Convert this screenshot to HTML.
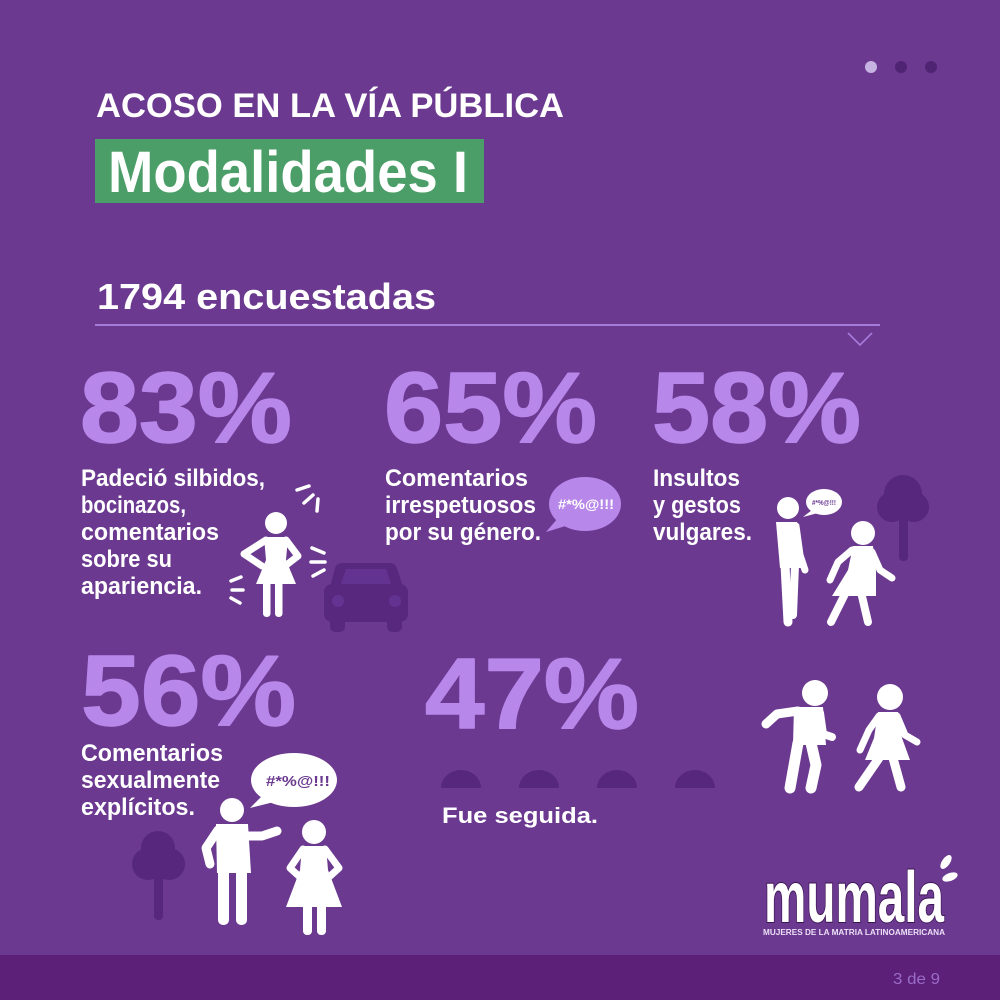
<!DOCTYPE html>
<html><head><meta charset="utf-8"><style>
html,body{margin:0;padding:0;background:#6b3990;}
svg{display:block}
text{font-family:"Liberation Sans",sans-serif;}
</style></head><body>
<svg width="1000" height="1000" viewBox="0 0 1000 1000" xmlns="http://www.w3.org/2000/svg">
<rect x="0" y="0" width="1000" height="1000" fill="#6b3990"/>
<rect x="0" y="955" width="1000" height="45" fill="#5c2078"/>
<!-- dots -->
<circle cx="871" cy="67" r="6" fill="#c7b3e1"/>
<circle cx="901" cy="67" r="6" fill="#4f2472"/>
<circle cx="931" cy="67" r="6" fill="#4f2472"/>
<!-- titles -->
<text x="96" y="117" font-size="34" font-weight="bold" fill="#ffffff" textLength="468" lengthAdjust="spacingAndGlyphs">ACOSO EN LA VÍA PÚBLICA</text>
<rect x="95" y="139" width="389" height="64" fill="#4b9e68"/>
<text x="108" y="192" font-size="58" font-weight="bold" fill="#ffffff" textLength="360" lengthAdjust="spacingAndGlyphs">Modalidades I</text>
<text x="97" y="309" font-size="36" font-weight="bold" fill="#ffffff" textLength="339" lengthAdjust="spacingAndGlyphs">1794 encuestadas</text>
<rect x="95" y="324" width="785" height="2" fill="#a77bd9"/>
<polyline points="848,333 860,345 872,333" fill="none" stroke="#a77bd9" stroke-width="1.6"/>

<!-- big numbers -->
<g font-size="100" font-weight="bold" fill="#b887ea" stroke="#b887ea" stroke-width="1.5" stroke-linejoin="round">
<text x="80" y="442" textLength="212" lengthAdjust="spacingAndGlyphs">83%</text>
<text x="384" y="442" textLength="213" lengthAdjust="spacingAndGlyphs">65%</text>
<text x="652" y="442" textLength="209" lengthAdjust="spacingAndGlyphs">58%</text>
<text x="81" y="725" textLength="215" lengthAdjust="spacingAndGlyphs">56%</text>
<text x="425" y="728" textLength="214" lengthAdjust="spacingAndGlyphs">47%</text>
</g>

<!-- body text -->
<g font-size="24" font-weight="bold" fill="#ffffff">
<text x="81" y="486" textLength="184" lengthAdjust="spacingAndGlyphs">Padeció silbidos,</text>
<text x="81" y="513" textLength="105" lengthAdjust="spacingAndGlyphs">bocinazos,</text>
<text x="81" y="540" textLength="138" lengthAdjust="spacingAndGlyphs">comentarios</text>
<text x="81" y="567" textLength="91" lengthAdjust="spacingAndGlyphs">sobre su</text>
<text x="81" y="594" textLength="121" lengthAdjust="spacingAndGlyphs">apariencia.</text>

<text x="385" y="486" textLength="143" lengthAdjust="spacingAndGlyphs">Comentarios</text>
<text x="385" y="513" textLength="151" lengthAdjust="spacingAndGlyphs">irrespetuosos</text>
<text x="385" y="540" textLength="156" lengthAdjust="spacingAndGlyphs">por su género.</text>

<text x="653" y="486" textLength="87" lengthAdjust="spacingAndGlyphs">Insultos</text>
<text x="653" y="513" textLength="88" lengthAdjust="spacingAndGlyphs">y gestos</text>
<text x="653" y="540" textLength="99" lengthAdjust="spacingAndGlyphs">vulgares.</text>

<text x="81" y="761" textLength="142" lengthAdjust="spacingAndGlyphs">Comentarios</text>
<text x="81" y="788" textLength="139" lengthAdjust="spacingAndGlyphs">sexualmente</text>
<text x="81" y="815" textLength="114" lengthAdjust="spacingAndGlyphs">explícitos.</text>
</g>
<text x="442" y="823" font-size="22" font-weight="bold" fill="#ffffff" textLength="156" lengthAdjust="spacingAndGlyphs">Fue seguida.</text>

<!-- 83% woman + dashes -->
<g fill="#ffffff">
<circle cx="276" cy="523" r="11"/>
<path d="M264,537 L288,537 L286,560 L296,584 L256,584 L266,560 Z"/>
<rect x="263" y="580" width="7.5" height="37" rx="3.5"/>
<rect x="275" y="580" width="7.5" height="37" rx="3.5"/>
</g>
<g fill="none" stroke="#ffffff" stroke-linecap="round" stroke-linejoin="round">
<polyline points="266,540 244,554 262,566" stroke-width="7"/>
<polyline points="286,540 298,556 285,566" stroke-width="7"/>
<g stroke-width="3.5">
<line x1="297" y1="490" x2="309" y2="486"/>
<line x1="304" y1="503" x2="313" y2="495"/>
<line x1="318" y1="499" x2="317" y2="511"/>
<line x1="312" y1="548" x2="324" y2="553"/>
<line x1="311" y1="562" x2="325" y2="562"/>
<line x1="313" y1="576" x2="324" y2="570"/>
<line x1="231" y1="581" x2="241" y2="577"/>
<line x1="232" y1="590" x2="243" y2="590"/>
<line x1="231" y1="598" x2="240" y2="603"/>
</g>
</g>

<!-- car -->
<g fill="#58287f">
<path d="M342,563 L390,563 Q395,563 397,568 L403,587 L330,587 L335,568 Q337,563 342,563 Z"/>
<rect x="324" y="584" width="84" height="38" rx="8"/>
<rect x="330" y="612" width="15" height="20" rx="5"/>
<rect x="387" y="612" width="15" height="20" rx="5"/>
</g>
<path d="M346,569 L386,569 L391,584 L341,584 Z" fill="#633392"/>
<circle cx="338" cy="601" r="6" fill="#633392"/>
<circle cx="395" cy="601" r="6" fill="#633392"/>

<!-- 65% bubble -->
<ellipse cx="585" cy="504" rx="36" ry="27" fill="#b887ea"/>
<path d="M558,518 L546,532 L572,524 Z" fill="#b887ea"/>
<text x="586" y="509" font-size="14" font-weight="bold" fill="#ffffff" text-anchor="middle" textLength="56" lengthAdjust="spacingAndGlyphs">#*%@!!!</text>

<!-- 58% tree -->
<g fill="#56277c">
<circle cx="903" cy="494" r="19"/>
<circle cx="892" cy="507" r="15"/>
<circle cx="914" cy="507" r="15"/>
<rect x="899" y="505" width="9" height="56" rx="4"/>
</g>
<!-- 58% man -->
<g fill="#ffffff">
<circle cx="788" cy="508" r="11"/>
<path d="M776,522 L797,522 L801,568 L780,568 Z"/>
<circle cx="863" cy="533" r="12"/>
<path d="M853,546 L873,546 L876,570 L876,596 L832,596 L848,570 Z"/>
</g>
<g fill="none" stroke="#ffffff" stroke-linecap="round" stroke-linejoin="round">
<polyline points="796,526 800,555 805,570" stroke-width="7"/>
<line x1="785" y1="565" x2="788" y2="622" stroke-width="9"/>
<line x1="795" y1="565" x2="793" y2="615" stroke-width="8"/>
<polyline points="852,550 838,562 830,580" stroke-width="7"/>
<polyline points="872,552 880,570 892,578" stroke-width="7"/>
<line x1="846" y1="592" x2="831" y2="622" stroke-width="8"/>
<line x1="861" y1="592" x2="868" y2="622" stroke-width="8"/>
</g>
<ellipse cx="824" cy="502" rx="18" ry="13" fill="#ffffff"/>
<path d="M812,510 L803,517 L818,513 Z" fill="#ffffff"/>
<text x="824" y="505" font-size="7.5" font-weight="bold" fill="#6b3990" text-anchor="middle" textLength="24" lengthAdjust="spacingAndGlyphs">#*%@!!!</text>

<!-- 56% tree -->
<g fill="#56277c">
<circle cx="158" cy="848" r="17"/>
<circle cx="148" cy="864" r="16"/>
<circle cx="169" cy="864" r="16"/>
<rect x="154" y="860" width="9" height="60" rx="4"/>
</g>
<!-- 56% bubble -->
<ellipse cx="294" cy="780" rx="43" ry="27" fill="#ffffff"/>
<path d="M264,794 L250,808 L278,801 Z" fill="#ffffff"/>
<text x="298" y="786" font-size="15" font-weight="bold" fill="#6b3990" text-anchor="middle" textLength="64" lengthAdjust="spacingAndGlyphs">#*%@!!!</text>
<!-- 56% man & woman -->
<g fill="#ffffff">
<circle cx="232" cy="810" r="12"/>
<path d="M216,824 L248,824 L251,873 L217,873 Z"/>
<rect x="218" y="868" width="11" height="57" rx="5"/>
<rect x="236" y="868" width="11" height="57" rx="5"/>
<circle cx="314" cy="832" r="12"/>
<path d="M302,846 L326,846 L328,870 L342,907 L286,907 L300,870 Z"/>
<rect x="303" y="900" width="9" height="35" rx="4"/>
<rect x="317" y="900" width="9" height="35" rx="4"/>
</g>
<g fill="none" stroke="#ffffff" stroke-linecap="round" stroke-linejoin="round">
<polyline points="218,830 206,848 210,864" stroke-width="9"/>
<polyline points="246,836 262,836 277,831" stroke-width="9"/>
<polyline points="303,849 290,868 301,878" stroke-width="7"/>
<polyline points="325,849 339,868 328,878" stroke-width="7"/>
</g>

<!-- 47% domes -->
<g fill="#56277c">
<path d="M441,788 A20,18 0 0 1 481,788 Z"/>
<path d="M519,788 A20,18 0 0 1 559,788 Z"/>
<path d="M597,788 A20,18 0 0 1 637,788 Z"/>
<path d="M675,788 A20,18 0 0 1 715,788 Z"/>
</g>
<!-- 47% walking figures -->
<g fill="#ffffff">
<circle cx="815" cy="693" r="13"/>
<path d="M794,707 L823,707 L826,745 L793,745 Z"/>
<circle cx="890" cy="697" r="13"/>
<path d="M878,712 L898,712 L902,738 L910,760 L865,760 L874,738 Z"/>
</g>
<g fill="none" stroke="#ffffff" stroke-linecap="round" stroke-linejoin="round">
<polyline points="798,711 777,714 766,724" stroke-width="9"/>
<polyline points="820,713 823,734 832,737" stroke-width="8"/>
<line x1="798" y1="743" x2="790" y2="788" stroke-width="11"/>
<polyline points="811,743 816,765 811,788" stroke-width="11"/>
<polyline points="879,716 869,730 860,750" stroke-width="7"/>
<polyline points="897,716 905,735 917,742" stroke-width="7"/>
<line x1="879" y1="758" x2="859" y2="787" stroke-width="9"/>
<line x1="893" y1="758" x2="901" y2="787" stroke-width="9"/>
</g>

<!-- logo -->
<text x="764" y="922" font-size="72" font-weight="bold" fill="#ffffff" stroke="#3b1452" stroke-width="2" paint-order="stroke" textLength="180" lengthAdjust="spacingAndGlyphs">mumala</text>
<ellipse cx="946" cy="862" rx="4" ry="8" fill="#ffffff" transform="rotate(35 946 862)"/>
<ellipse cx="950" cy="877" rx="4" ry="8" fill="#ffffff" transform="rotate(70 950 877)"/>
<text x="763" y="935" font-size="8" font-weight="bold" fill="#ece0f7" textLength="182" lengthAdjust="spacingAndGlyphs">MUJERES DE LA MATRIA LATINOAMERICANA</text>

<text x="893" y="984" font-size="16" fill="#9a6cc8" textLength="47" lengthAdjust="spacingAndGlyphs">3 de 9</text>
</svg>
</body></html>
